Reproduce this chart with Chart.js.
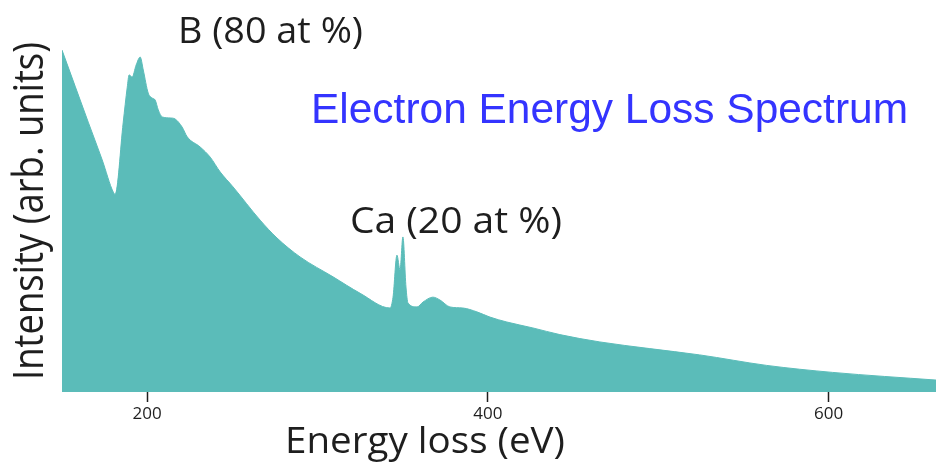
<!DOCTYPE html>
<html>
<head>
<meta charset="utf-8">
<script src="https://cdn.jsdelivr.net/npm/chart.js@4.4.1/dist/chart.umd.min.js"></script>
<style>
  html, body { margin: 0; padding: 0; background: #fff; }
  #wrap { width: 937px; height: 462px; position: relative; }
</style>
</head>
<body>
<div id="wrap"><canvas id="eels"></canvas></div>
<script>
// energy loss (eV) and intensity (arb. units)
const energyEv = [
  150, 165.4, 173.6, 180.1, 181.2, 185.9, 188.3, 189.4, 191.2,
  193.5, 195.9, 197.7, 200.6, 202.9, 204.7, 206.5, 208.8, 213.5, 216.4,
  220.5, 223.5, 231.1, 237.0, 242.8, 250.4, 266.3, 276.2, 289.7, 309.1,
  325.0, 342.5, 344.3, 346.6, 348.4, 350.1, 351.9, 353.1, 358.4,
  361.9, 367.7, 371.8, 377.7, 385.3, 393.5, 401.2, 411.1, 426.4, 442.2,
  465.7, 495.0, 524.3, 563.6, 602.3, 663.3
];
const intensity = [
  97.7, 77.1, 66.3, 57.1, 56.5, 76.9, 87.1, 90.6, 90.0,
  93.4, 95.7, 92.0, 85.4, 84.0, 83.4, 80.6, 78.6, 78.3, 78.0,
  75.7, 72.9, 70.0, 67.1, 62.9, 58.6, 49.1, 44.0, 38.6, 32.9,
  28.2, 24.0, 27.1, 39.1, 34.9, 44.3, 30.0, 25.4, 24.3,
  25.7, 27.1, 26.3, 24.3, 24.0, 22.9, 21.4, 20.0, 18.3, 16.4,
  14.3, 12.4, 10.6, 7.6, 5.6, 3.4
];
const xTicks = [200, 400, 600];

const FILL   = '#5bbcb9';
const INK    = '#1e1e1e';
const SANS   = '"Open Sans", sans-serif';

// text drawn on top: left x, baseline y, target width, font size
const labels = [
  { text: 'B (80 at %)',                   x: 178, y: 43,  w: 185, size: 36, font: SANS, color: INK },
  { text: 'Ca (20 at %)',                  x: 350, y: 233, w: 212, size: 37, font: SANS, color: INK },
  { text: 'Energy loss (eV)',              x: 285, y: 453, w: 280, size: 36, font: SANS, color: INK },
  { text: 'Intensity (arb. units)',        x: 43,  y: 380, w: 338, size: 42, font: SANS, color: INK, rotate: true },
  { text: 'Electron Energy Loss Spectrum', x: 311, y: 123, w: 597, size: 43, font: '"Liberation Sans", Arial, sans-serif', color: '#3434ff' },
];

const textPlugin = {
  id: 'texts',
  afterDraw(chart) {
    const ctx = chart.ctx;
    labels.forEach(l => {
      ctx.save();
      ctx.translate(l.x, l.y);
      if (l.rotate) ctx.rotate(-Math.PI / 2);
      ctx.font = `${l.size}px ${l.font}`;
      ctx.textAlign = 'left';
      ctx.textBaseline = 'alphabetic';
      const natural = ctx.measureText(l.text).width;
      ctx.scale(l.w / natural, 1);
      ctx.fillStyle = l.color;
      ctx.fillText(l.text, 0, 0);
      ctx.restore();
    });
  },
};

new Chart(document.getElementById('eels'), {
  type: 'line',
  data: {
    datasets: [{
      data: energyEv.map((e, i) => ({ x: e, y: intensity[i] })),
      borderColor: FILL,
      backgroundColor: FILL,
      borderWidth: 1,
      pointRadius: 0,
      cubicInterpolationMode: 'monotone',
      fill: 'origin',
    }],
  },
  options: {
    responsive: true,
    maintainAspectRatio: false,
    animation: false,
    layout: { padding: { top: 42, left: 62, right: 1, bottom: 0 } },
    plugins: { legend: { display: false }, tooltip: { enabled: false } },
    scales: {
      x: {
        type: 'linear',
        min: 150,
        max: 663,
        afterBuildTicks: s => { s.ticks = xTicks.map(v => ({ value: v })); },
        afterFit: s => { s.height = 70; },
        ticks: {
          color: INK,
          font: { family: SANS, size: 17 },
          padding: 2,
          maxRotation: 0,
        },
        grid: {
          drawOnChartArea: false,
          drawTicks: true,
          tickLength: 10,
          tickColor: INK,
          tickWidth: 1.5,
        },
        border: { display: false },
      },
      y: {
        display: false,
        min: 0,
        max: 100,
      },
    },
  },
  plugins: [textPlugin],
});
</script>
</body>
</html>
